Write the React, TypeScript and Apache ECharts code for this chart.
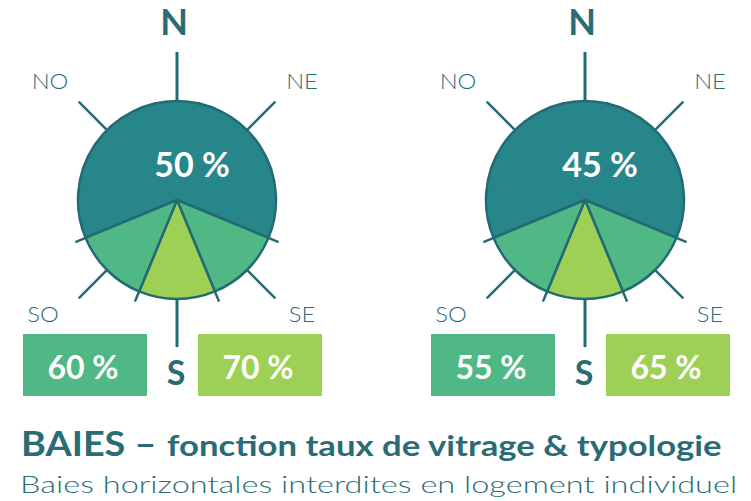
import React, { useEffect, useRef } from "react";
import * as echarts from "echarts";

// ---- data ----
const sectorNames = ["Nord", "Sud-Est", "Sud", "Sud-Ouest"];
const sectorSpans = [225, 45, 45, 45]; // degrees covered by each orientation sector
const northRates = [50, 45];
const sideRates = [60, 55]; // SE / SO
const southRates = [70, 65]; // S
const cardinalLabels = ["N", "S"];
const interLabels = ["NO", "NE", "SO", "SE"];
const titleMain = "BAIES –";
const titleSub = "fonction taux de vitrage & typologie";
const subtitle = "Baies horizontales interdites en logement individuel";

// ---- style ----
const DARK = "#27868a";
const GREEN = "#50b884";
const LIGHT = "#9ed055";
const LINE = "#236b74";
const TEXT = "#2a6c76";
const sectorColors = [DARK, GREEN, LIGHT, GREEN];
const FONT = "Lato, 'Noto Sans', sans-serif";

const W = 751;
const H = 501;
const CENTERS: [number, number][] = [
  [177, 200],
  [585, 200],
];
const R = 99;
const START_BEARING = 247.5;

function pt(cx: number, cy: number, bearing: number, r: number): [number, number] {
  const a = (bearing * Math.PI) / 180;
  return [cx + r * Math.sin(a), cy - r * Math.cos(a)];
}

function lineEl(cx: number, cy: number, bearing: number, r0: number, r1: number, w: number) {
  const [x1, y1] = pt(cx, cy, bearing, r0);
  const [x2, y2] = pt(cx, cy, bearing, r1);
  return {
    type: "line",
    silent: true,
    z: 1,
    shape: { x1, y1, x2, y2 },
    style: { stroke: LINE, lineWidth: w, lineCap: "butt" },
  };
}

function textEl(
  x: number,
  y: number,
  text: string,
  size: number,
  weight: any,
  color: string,
  align = "center",
  scaleX = 1
) {
  return {
    type: "text",
    silent: true,
    z: 10,
    x,
    y,
    scaleX,
    style: {
      text,
      fill: color,
      font: `${weight} ${size}px ${FONT}`,
      align,
      verticalAlign: "middle",
    },
  };
}

function compassGraphics(idx: number) {
  const [cx, cy] = CENTERS[idx];
  const els: any[] = [];
  // cardinal ticks
  els.push(lineEl(cx, cy, 0, R + 1, R + 49, 3));
  els.push(lineEl(cx, cy, 180, R, R + 48, 3));
  // intercardinal ticks
  [315, 45, 225, 135].forEach((b) => els.push(lineEl(cx, cy, b, R + 1, R + 40, 2.5)));
  // sector boundary extensions
  let b = START_BEARING;
  sectorSpans.forEach((s) => {
    els.push(lineEl(cx, cy, b % 360, R, R + 11, 2.5));
    b += s;
  });
  // labels
  els.push(textEl(cx - 3, 21, cardinalLabels[0], 36, "bold", TEXT));
  els.push(textEl(cx - 1, 371, cardinalLabels[1], 34, "bold", TEXT));
  const interPos: [number, number][] = [
    [cx - 127, 80],
    [cx + 125, 80],
    [cx - 134, 313],
    [cx + 125, 313],
  ];
  interLabels.forEach((l, i) => els.push(textEl(interPos[i][0], interPos[i][1], l, 22, 300, TEXT, "center", 1.08)));
  // north rate
  els.push(textEl(cx + 15, 163, `${northRates[idx]} %`, 34, "bold", "#ffffff"));
  // boxes
  els.push({
    type: "rect",
    silent: true,
    shape: { x: cx - 154, y: 334, width: 124, height: 62 },
    style: { fill: GREEN },
  });
  els.push(textEl(cx - 94, 366, `${sideRates[idx]} %`, 32, "bold", "#ffffff"));
  els.push({
    type: "rect",
    silent: true,
    shape: { x: cx + 21, y: 334, width: 124, height: 62 },
    style: { fill: LIGHT },
  });
  els.push(textEl(cx + 81, 366, `${southRates[idx]} %`, 32, "bold", "#ffffff"));
  return els;
}

export default function App() {
  const ref = useRef<HTMLDivElement>(null);
  useEffect(() => {
    document.body.style.margin = "0";
    const chart = echarts.init(ref.current!, null, { renderer: "svg" });
    const series = CENTERS.map((c, idx) => ({
      type: "pie",
      name: `compass${idx}`,
      center: c,
      radius: [0, R],
      startAngle: 90 - START_BEARING + 360,
      clockwise: true,
      silent: true,
      label: { show: false },
      labelLine: { show: false },
      emphasis: { disabled: true },
      z: 2,
      itemStyle: { borderColor: LINE, borderWidth: 2.5 },
      data: sectorNames.map((n, i) => ({
        name: n,
        value: sectorSpans[i],
        itemStyle: { color: sectorColors[i] },
      })),
    }));
    const graphics: any[] = [...compassGraphics(0), ...compassGraphics(1)];
    graphics.push(textEl(21, 443, titleMain, 35, "bold", TEXT, "left", 1.08));
    graphics.push(textEl(167, 445, titleSub, 28, "bold", TEXT, "left", 1.24));
    graphics.push(textEl(20, 484, subtitle, 24, 300, TEXT, "left", 1.355));
    chart.setOption({
      animation: false,
      backgroundColor: "#ffffff",
      series,
      graphic: { elements: graphics },
    });
    return () => chart.dispose();
  }, []);
  return <div ref={ref} style={{ position: "absolute", left: 0, top: 0, width: W, height: H }} />;
}
